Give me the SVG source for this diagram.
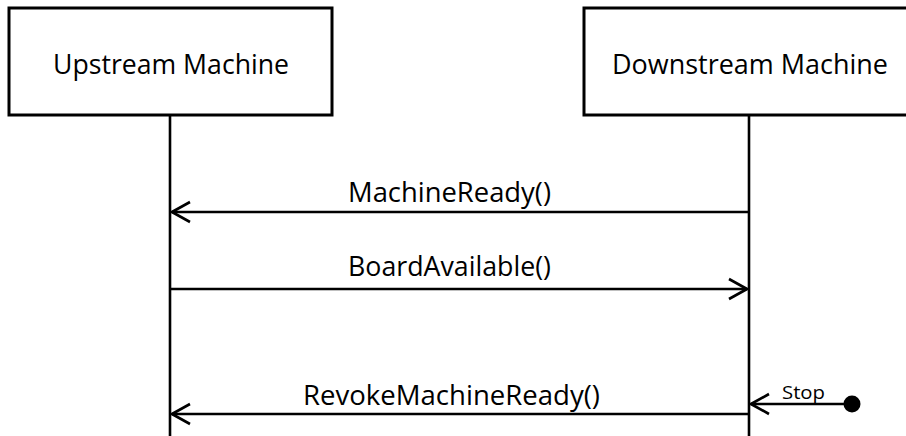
<svg xmlns="http://www.w3.org/2000/svg" width="906" height="436" viewBox="0 0 906 436">
<style>
.box{fill:#fff;stroke:#000;stroke-width:3}
.life{stroke:#000;stroke-width:2.6;fill:none}
.msg{stroke:#000;stroke-width:2.6;fill:none}
.t{font-family:"Open Sans","Liberation Sans",Arial,sans-serif;font-size:27.5px;fill:#000}
.s{font-family:"Open Sans","Liberation Sans",Arial,sans-serif;font-size:19px;fill:#000}
</style>
<defs>
<marker id="open" markerUnits="userSpaceOnUse" markerWidth="22" markerHeight="24" refX="18" refY="10" orient="auto" viewBox="-2 -2 22 24">
<path d="M0,0 L18,10 L0,20" fill="none" stroke="#000" stroke-width="2.6"/>
</marker>
</defs>
<rect width="906" height="436" fill="#fff"/>
<g id="upstream">
<rect class="box" x="9" y="8" width="323" height="107"/>
<text class="t" x="171" y="74" text-anchor="middle" textLength="236" lengthAdjust="spacingAndGlyphs">Upstream Machine</text>
<line class="life" x1="170" y1="115" x2="170" y2="436"/>
</g>
<g id="downstream">
<rect class="box" x="584" y="8" width="340" height="107"/>
<text class="t" x="750" y="74" text-anchor="middle" textLength="276" lengthAdjust="spacingAndGlyphs">Downstream Machine</text>
<line class="life" x1="749" y1="115" x2="749" y2="436"/>
</g>
<g id="stop-start">
<circle cx="852" cy="404" r="8.5" fill="#000"/>
</g>
<g id="connectors">
<line class="msg" x1="749" y1="212" x2="172" y2="212" marker-end="url(#open)"/>
<text class="t" x="348" y="202" textLength="203" lengthAdjust="spacingAndGlyphs">MachineReady()</text>
<line class="msg" x1="170" y1="289" x2="747" y2="289" marker-end="url(#open)"/>
<text class="t" x="348" y="276" textLength="203" lengthAdjust="spacingAndGlyphs">BoardAvailable()</text>
<line class="msg" x1="749" y1="414" x2="172" y2="414" marker-end="url(#open)"/>
<text class="t" x="303" y="405" textLength="297" lengthAdjust="spacingAndGlyphs">RevokeMachineReady()</text>
<line class="msg" x1="852" y1="404" x2="751" y2="404" marker-end="url(#open)"/>
<text class="s" x="782" y="399" textLength="43" lengthAdjust="spacingAndGlyphs">Stop</text>
</g>
</svg>
